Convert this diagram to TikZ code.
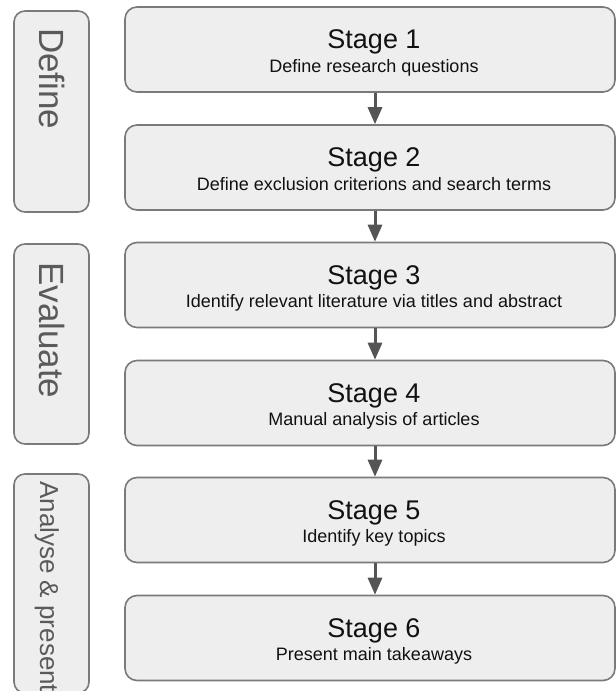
\documentclass[tikz,border=0pt]{standalone}
\usepackage{fontspec}
\setmainfont{Liberation Sans}
\usetikzlibrary{arrows.meta}

\definecolor{boxfill}{HTML}{EEEEEE}
\definecolor{boxline}{HTML}{7A7A7A}
\definecolor{arrowgray}{HTML}{555555}
\definecolor{phasetext}{HTML}{5A5A5A}
\definecolor{stagetext}{HTML}{111111}

\tikzset{
  stagebox/.style={draw=boxline, fill=boxfill, line width=1.6pt, rounded corners=12pt,
    minimum width=490pt, minimum height=85pt, inner sep=0pt},
  phasebox/.style={draw=boxline, fill=boxfill, line width=1.6pt, rounded corners=11pt,
    minimum width=75pt, inner sep=0pt},
  stagetitle/.style={anchor=base, inner sep=0pt, text=stagetext, font=\fontsize{27}{32}\selectfont},
  stagesub/.style={anchor=base, inner sep=0pt, text=stagetext, font=\fontsize{18}{22}\selectfont},
  phaselabel/.style={rotate=-90, anchor=base west, inner sep=0pt, text=phasetext},
  flow/.style={draw=arrowgray, line width=3pt, -{Triangle[length=17pt,width=14pt]}}
}

\begin{document}
\begin{tikzpicture}[x=1pt, y=-1pt]
  \useasboundingbox (0,0) rectangle (616,691);
  \clip (0,0) rectangle (616,691);

  % phase columns
  \node[phasebox, minimum height=201pt] (pdef) at (51.5,111.5) {};
  \node[phasebox, minimum height=200pt] (peval) at (51.5,344) {};
  \node[phasebox, minimum height=219pt] (pana) at (51.5,583.5) {};
  \node[phaselabel, font=\fontsize{35}{40}\selectfont] (ldef) at (39,28) {Define};
  \node[phaselabel, font=\fontsize{35}{40}\selectfont] (leval) at (39,262) {Evaluate};
  \node[phaselabel, font=\fontsize{26}{30}\selectfont] (lana) at (40,481) {Analyse \& present};

  % stage boxes
  \node[stagebox] (s1) at (370,49.5) {};
  \node[stagebox] (s2) at (370,167.5) {};
  \node[stagebox] (s3) at (370,285) {};
  \node[stagebox] (s4) at (370,403) {};
  \node[stagebox] (s5) at (370,520) {};
  \node[stagebox] (s6) at (370,638) {};

  % stage texts
  \node[stagetitle] (t1) at (374,48) {Stage 1};
  \node[stagesub] (d1) at (374,72) {Define research questions};
  \node[stagetitle] (t2) at (374,166) {Stage 2};
  \node[stagesub] (d2) at (374,190) {Define exclusion criterions and search terms};
  \node[stagetitle] (t3) at (374,284) {Stage 3};
  \node[stagesub] (d3) at (374,307) {Identify relevant literature via titles and abstract};
  \node[stagetitle] (t4) at (374,402) {Stage 4};
  \node[stagesub] (d4) at (374,425) {Manual analysis of articles};
  \node[stagetitle] (t5) at (374,519) {Stage 5};
  \node[stagesub] (d5) at (374,542) {Identify key topics};
  \node[stagetitle] (t6) at (374,637) {Stage 6};
  \node[stagesub] (d6) at (374,660) {Present main takeaways};

  % flow arrows
  \foreach \a/\b in {s1/s2, s2/s3, s3/s4, s4/s5, s5/s6}
    \draw[flow] ([xshift=5pt]\a.south) -- ([xshift=5pt]\b.north);
\end{tikzpicture}
\end{document}
